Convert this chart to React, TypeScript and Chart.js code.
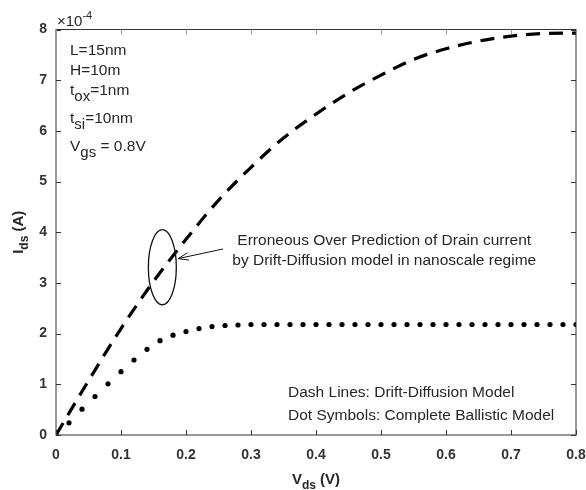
import React, { useEffect, useRef } from "react";
import { Chart, registerables } from "chart.js";

Chart.register(...registerables);

// Drift-Diffusion model (dashed), Ids in units of 1e-4 A
const ddVds = [0, 0.05, 0.1, 0.15, 0.2, 0.25, 0.3, 0.35, 0.4, 0.45, 0.5, 0.55, 0.6, 0.65, 0.7, 0.75, 0.8];
const ddIds = [0, 1.07, 2.1, 3.03, 3.86, 4.63, 5.28, 5.86, 6.33, 6.75, 7.1, 7.41, 7.62, 7.77, 7.87, 7.92, 7.93];

// Complete Ballistic model (dots)
const balVds = [
  0, 0.02, 0.04, 0.06, 0.08, 0.1, 0.12, 0.14, 0.16, 0.18, 0.2, 0.22, 0.24, 0.26, 0.28, 0.3,
  0.32, 0.34, 0.36, 0.38, 0.4, 0.42, 0.44, 0.46, 0.48, 0.5, 0.52, 0.54, 0.56, 0.58, 0.6,
  0.62, 0.64, 0.66, 0.68, 0.7, 0.72, 0.74, 0.76, 0.78, 0.8,
];
const balIds = [
  0, 0.24, 0.51, 0.76, 1.01, 1.25, 1.48, 1.69, 1.86, 1.97, 2.04, 2.1, 2.14, 2.16, 2.17, 2.18,
  2.18, 2.18, 2.18, 2.18, 2.18, 2.18, 2.18, 2.18, 2.18, 2.18, 2.18, 2.18, 2.18, 2.18, 2.18,
  2.18, 2.18, 2.18, 2.18, 2.18, 2.18, 2.18, 2.18, 2.18, 2.18,
];

const xTicks = [0, 0.1, 0.2, 0.3, 0.4, 0.5, 0.6, 0.7, 0.8];
const yTicks = [0, 1, 2, 3, 4, 5, 6, 7, 8];

const paramLines = [
  { main: "L=15nm", sub: "", rest: "" },
  { main: "H=10m", sub: "", rest: "" },
  { main: "t", sub: "ox", rest: "=1nm" },
  { main: "t", sub: "si", rest: "=10nm" },
  { main: "V", sub: "gs", rest: " = 0.8V" },
];
const noteLines = [
  "Erroneous Over Prediction of Drain current",
  "by Drift-Diffusion model in nanoscale regime",
];
const legendLines = [
  "Dash Lines: Drift-Diffusion Model",
  "Dot Symbols: Complete Ballistic Model",
];

const FONT = "'Liberation Sans', Arial, Helvetica, sans-serif";
const TXT = "#262626";
const ANN = `15.5px ${FONT}`;

type Seg = { t: string; f: string; dy: number };

function drawSegs(ctx: CanvasRenderingContext2D, segs: Seg[], x: number, y: number, align: "left" | "center") {
  let total = 0;
  for (const s of segs) {
    ctx.font = s.f;
    total += ctx.measureText(s.t).width;
  }
  let cx = align === "center" ? x - total / 2 : x;
  ctx.textAlign = "left";
  ctx.textBaseline = "alphabetic";
  for (const s of segs) {
    ctx.font = s.f;
    ctx.fillText(s.t, cx, y + s.dy);
    cx += ctx.measureText(s.t).width;
  }
}

const decorPlugin = {
  id: "decor",
  afterDatasetsDraw(chart: any) {
    const { ctx, chartArea: a, scales } = chart;
    const xs = scales.x;
    const ys = scales.y;
    ctx.save();

    // Box
    ctx.strokeStyle = "#333";
    ctx.lineWidth = 1;
    ctx.strokeRect(a.left, a.top, a.right - a.left, a.bottom - a.top);

    // Inward ticks
    const tl = 5;
    ctx.beginPath();
    for (const v of xTicks) {
      const px = Math.round(xs.getPixelForValue(v)) + 0.5;
      ctx.moveTo(px, a.bottom);
      ctx.lineTo(px, a.bottom - tl);
    }
    for (const v of yTicks) {
      const py = Math.round(ys.getPixelForValue(v)) + 0.5;
      ctx.moveTo(a.left, py);
      ctx.lineTo(a.left + tl, py);
      ctx.moveTo(a.right, py);
      ctx.lineTo(a.right - tl, py);
    }
    ctx.stroke();
    ctx.strokeStyle = "#999";
    ctx.beginPath();
    for (const v of xTicks) {
      const px = Math.round(xs.getPixelForValue(v)) + 0.5;
      ctx.moveTo(px, a.top);
      ctx.lineTo(px, a.top + tl);
    }
    ctx.stroke();

    ctx.fillStyle = TXT;

    // x10^-4 exponent label
    drawSegs(
      ctx,
      [
        { t: "×10", f: `15px ${FONT}`, dy: 0 },
        { t: "-4", f: `11px ${FONT}`, dy: -7 },
      ],
      a.left + 1,
      a.top - 4,
      "left"
    );

    // Parameter text
    const px0 = a.left + 14;
    const rows = [55, 75, 95, 123, 151];
    paramLines.forEach((p, i) => {
      const segs: Seg[] = [{ t: p.main, f: ANN, dy: 0 }];
      if (p.sub) segs.push({ t: p.sub, f: `15px ${FONT}`, dy: 6 });
      if (p.rest) segs.push({ t: p.rest, f: ANN, dy: 0 });
      drawSegs(ctx, segs, px0, rows[i], "left");
    });

    // Ellipse around the dashed curve
    const ecx = xs.getPixelForValue(0.1636);
    const ecy = ys.getPixelForValue(3.31);
    const erx = xs.getPixelForValue(0.1636 + 0.0215) - ecx;
    const ery = ys.getPixelForValue(3.31) - ys.getPixelForValue(3.31 + 0.74);
    ctx.strokeStyle = "#111";
    ctx.lineWidth = 1.3;
    ctx.beginPath();
    ctx.ellipse(ecx, ecy, erx, ery, 0, 0, Math.PI * 2);
    ctx.stroke();

    // Arrow
    const ax0 = xs.getPixelForValue(0.257);
    const ay0 = ys.getPixelForValue(3.67);
    const ax1 = xs.getPixelForValue(0.188);
    const ay1 = ys.getPixelForValue(3.48);
    ctx.lineWidth = 1;
    ctx.beginPath();
    ctx.moveTo(ax0, ay0);
    ctx.lineTo(ax1, ay1);
    const ang = Math.atan2(ay0 - ay1, ax0 - ax1);
    const hl = 11;
    ctx.moveTo(ax1 + hl * Math.cos(ang + 0.35), ay1 + hl * Math.sin(ang + 0.35));
    ctx.lineTo(ax1, ay1);
    ctx.lineTo(ax1 + hl * Math.cos(ang - 0.35), ay1 + hl * Math.sin(ang - 0.35));
    ctx.stroke();

    // Note text
    ctx.font = ANN;
    ctx.textAlign = "center";
    ctx.textBaseline = "middle";
    ctx.fillText(noteLines[0], xs.getPixelForValue(0.505), ys.getPixelForValue(3.83));
    ctx.fillText(noteLines[1], xs.getPixelForValue(0.505), ys.getPixelForValue(3.43));

    // Legend text
    ctx.textAlign = "left";
    ctx.fillText(legendLines[0], xs.getPixelForValue(0.357), ys.getPixelForValue(0.83));
    ctx.fillText(legendLines[1], xs.getPixelForValue(0.357), ys.getPixelForValue(0.38));

    // Axis titles
    const bold = `bold 15px ${FONT}`;
    const boldSub = `bold 12px ${FONT}`;
    drawSegs(
      ctx,
      [
        { t: "V", f: bold, dy: 0 },
        { t: "ds", f: boldSub, dy: 5 },
        { t: " (V)", f: bold, dy: 0 },
      ],
      (a.left + a.right) / 2,
      484,
      "center"
    );
    ctx.save();
    ctx.translate(23, (a.top + a.bottom) / 2);
    ctx.rotate(-Math.PI / 2);
    drawSegs(
      ctx,
      [
        { t: "I", f: bold, dy: 0 },
        { t: "ds", f: boldSub, dy: 5 },
        { t: " (A)", f: bold, dy: 0 },
      ],
      0,
      0,
      "center"
    );
    ctx.restore();

    ctx.restore();
  },
};

export default function App() {
  const ref = useRef<HTMLCanvasElement | null>(null);
  useEffect(() => {
    if (!ref.current) return;
    const chart = new Chart(ref.current, {
      type: "line",
      data: {
        datasets: [
          {
            label: "Drift-Diffusion",
            data: ddVds.map((v, i) => ({ x: v, y: ddIds[i] })),
            borderColor: "#000",
            borderWidth: 3.2,
            borderDash: [14, 9],
            borderCapStyle: "butt",
            pointRadius: 0,
            cubicInterpolationMode: "monotone",
            fill: false,
          },
          {
            label: "Ballistic",
            data: balVds.map((v, i) => ({ x: v, y: balIds[i] })),
            showLine: false,
            pointRadius: 2.6,
            pointBackgroundColor: "#000",
            pointBorderWidth: 0,
            borderColor: "#000",
          },
        ],
      },
      options: {
        responsive: false,
        animation: false,
        devicePixelRatio: 1,
        layout: { padding: { left: 0, top: 29.5, right: 10, bottom: 0 } },
        plugins: { legend: { display: false }, tooltip: { enabled: false }, title: { display: false } },
        scales: {
          x: {
            type: "linear",
            min: 0,
            max: 0.8,
            grid: { display: false, drawTicks: false },
            border: { display: false },
            afterFit: (s: any) => {
              s.height = 55;
              s.paddingLeft = 0;
              s.paddingRight = 0;
            },
            afterBuildTicks: (s: any) => {
              s.ticks = xTicks.map((v) => ({ value: v }));
            },
            ticks: {
              padding: 12,
              color: "#333",
              font: { family: FONT, size: 14, weight: "bold" },
              callback: (v: any) => String(Math.round(Number(v) * 10) / 10),
            },
          },
          y: {
            type: "linear",
            min: 0,
            max: 8,
            grid: { display: false, drawTicks: false },
            border: { display: false },
            afterFit: (s: any) => {
              s.width = 56;
              s.paddingTop = 0;
              s.paddingBottom = 0;
            },
            afterBuildTicks: (s: any) => {
              s.ticks = yTicks.map((v) => ({ value: v }));
            },
            ticks: {
              padding: 9,
              color: "#333",
              font: { family: FONT, size: 14, weight: "bold" },
              callback: (v: any) => String(v),
            },
          },
        },
      },
      plugins: [decorPlugin],
    } as any);
    return () => chart.destroy();
  }, []);
  return (
    <div style={{ position: "fixed", left: 0, top: 0, width: 586, height: 490, background: "#fff" }}>
      <canvas ref={ref} width={586} height={490} style={{ width: 586, height: 490, display: "block" }} />
    </div>
  );
}
